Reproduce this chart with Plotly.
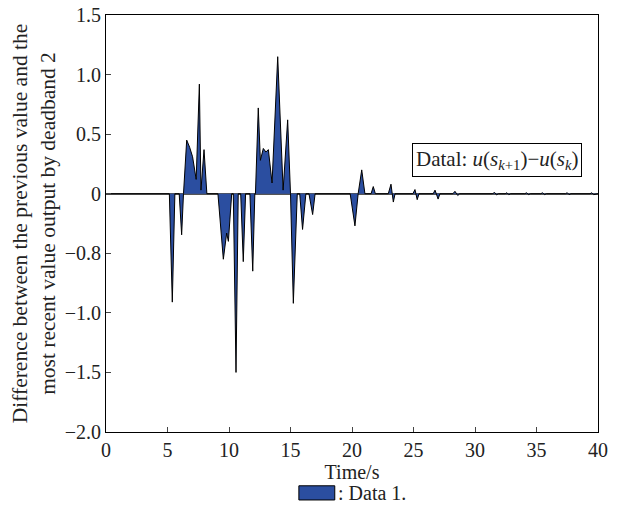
import plotly.graph_objects as go

# ---- data ----
time_s = [0, 5.15, 5.39, 5.6, 5.95, 6.15, 6.3,
          6.56, 6.8, 7.04, 7.33, 7.59, 7.72, 7.97, 8.2,
          9.1, 9.54, 9.81, 9.95, 10.22, 10.35, 10.57, 10.75,
          10.95, 11.16, 11.35, 11.7, 11.93, 12.1,
          12.15, 12.38, 12.55, 12.79, 13.0, 13.2, 13.5, 13.96, 14.4, 14.77, 15.0,
          15.23, 15.55, 15.75, 15.98, 16.25, 16.5, 16.8, 17.0,
          19.85, 20.24, 20.5, 20.79, 21.05,
          21.55, 21.73, 21.9, 22.95, 23.17, 23.27, 23.36, 23.5,
          24.95, 25.12, 25.22, 25.3, 25.45,
          26.6, 26.75, 26.87, 27.0, 27.15,
          28.2, 28.37, 28.5, 28.6, 28.75,
          31.4, 31.6, 31.75, 31.9,
          32.45, 32.6, 32.75, 32.9,
          34.05, 34.2, 34.35, 34.5,
          35.35, 35.5, 35.65, 35.8,
          37.35, 37.5, 37.65, 37.8,
          39.35, 39.5, 39.65, 40]
diff_val = [0, 0, -0.91, 0, 0, -0.345, 0,
            0.45, 0.39, 0.31, 0.12, 0.92, 0.03, 0.37, 0,
            0, -0.55, -0.33, -0.40, 0, 0, -1.5, 0,
            0, -0.57, 0, 0, -0.65, 0,
            0, 0.72, 0.28, 0.38, 0.35, 0.37, 0.09, 1.15, 0.03, 0.62, 0,
            -0.92, 0, 0, -0.30, 0, 0, -0.175, 0,
            0, -0.27, 0, 0.20, 0,
            0, 0.06, 0, 0, 0.08, 0, -0.07, 0,
            0, 0.035, 0, -0.05, 0,
            0, 0.03, 0, -0.045, 0,
            0, 0.02, 0, -0.015, 0,
            0, 0.01, -0.01, 0,
            0, 0.008, -0.008, 0,
            0, 0.008, -0.008, 0,
            0, 0.008, -0.008, 0,
            0, 0.008, -0.008, 0,
            0, 0.008, -0.008, 0]

y_tick_vals = [-2.0, -1.5, -1.0, -0.5, 0, 0.5, 1.0, 1.5]
y_tick_text = ["\u22122.0", "\u22121.5", "\u22121.0", "\u22120.8", "0", "0.5", "1.0", "1.5"]
x_tick_vals = [0, 5, 10, 15, 20, 25, 30, 35, 40]

FONT = "Liberation Serif, Times New Roman, serif"
BLUE = "#2b4ea0"

fig = go.Figure()
fig.add_trace(go.Scatter(
    x=time_s, y=diff_val, mode="lines", fill="tozeroy",
    fillcolor=BLUE, line=dict(color="black", width=1),
    name="Data 1.", showlegend=False, hoverinfo="x+y"))

# the page body adds an 8px margin, so the figure is sized to compensate
fig.update_layout(
    width=612, height=499,
    margin=dict(l=98, r=22, t=7, b=75),
    paper_bgcolor="white", plot_bgcolor="white",
    font=dict(family=FONT, size=20, color="#222"),
    showlegend=False,
    xaxis=dict(range=[0, 40], tickvals=x_tick_vals, ticks="inside", ticklen=5,
               tickcolor="#444", showline=True, linecolor="black", linewidth=1,
               mirror=True, showgrid=False, zeroline=False, automargin=False,
               ticklabeloverflow="allow",
               title=dict(text="Time/s", standoff=0, font=dict(size=20))),
    yaxis=dict(range=[-2.0, 1.5], tickvals=y_tick_vals, ticktext=y_tick_text,
               ticks="inside", ticklen=5, tickcolor="#444", automargin=False,
               ticklabeloverflow="allow",
               showline=True, linecolor="black", linewidth=1, mirror=True,
               showgrid=False, zeroline=True, zerolinecolor="#555", zerolinewidth=1.5,
               title=dict(text="Difference between the previous value and the<br>most recent value output by deadband 2",
                          standoff=6, font=dict(size=21.5))),
)

# in-plot label box
fig.add_annotation(
    xref="paper", yref="paper", x=0.794, y=0.652, xanchor="center", yanchor="middle",
    text="Datal: <i>u</i>(<i>s</i><sub><i>k</i>+1</sub>)\u2212<i>u</i>(<i>s</i><sub><i>k</i></sub>)",
    showarrow=False, font=dict(size=21, color="#222"),
    bordercolor="black", borderwidth=1, borderpad=3, bgcolor="white")

# bottom legend
fig.add_shape(type="rect", xref="paper", yref="paper",
              x0=0.392, x1=0.465, y0=-0.163, y1=-0.129,
              fillcolor=BLUE, line=dict(color="black", width=1))
fig.add_annotation(xref="paper", yref="paper", x=0.468, y=-0.146,
                   xanchor="left", yanchor="middle", text=": Data 1.",
                   showarrow=False, font=dict(size=20, color="#222"))

fig.write_html("out.html")
